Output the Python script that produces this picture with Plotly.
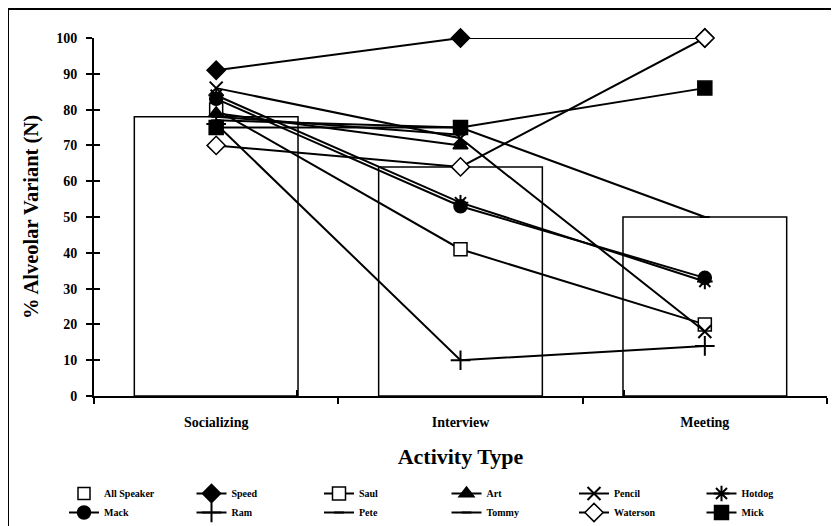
import plotly.graph_objects as go

categories = ["Socializing", "Interview", "Meeting"]
all_speaker = [78, 64, 50]

speed = [91, 100, 100]
saul = [80, 41, 20]
art = [79, 70, None]
pencil = [86, 72, 18]
hotdog = [84, 54, 32]
mack = [83, 53, 33]
ram = [76, 10, 14]
pete = [77, 75, 50]
tommy = [78, 73, None]
waterson = [70, 64, 100]
mick = [75, 75, 86]

series = [
    ("Speed", speed, "diamond", "black", 14),
    ("Saul", saul, "square", "white", 13),
    ("Art", art, "triangle-up", "black", 13),
    ("Pencil", pencil, "x-thin-open", "black", 13),
    ("Hotdog", hotdog, "asterisk-open", "black", 13),
    ("Mack", mack, "circle", "black", 13),
    ("Ram", ram, "cross-thin-open", "black", 14),
    ("Pete", pete, "line-ew-open", "black", 7),
    ("Tommy", tommy, "line-ew-open", "black", 7),
    ("Waterson", waterson, "diamond", "white", 14),
    ("Mick", mick, "square", "black", 14),
]

FONT = "Liberation Serif"
OFF = 8  # page body margin in the screenshot

W, H = 839, 526
# plot area in screenshot pixels
SX0, SX1, SY0, SY1 = 94, 827, 38, 396
L = SX0 - OFF
R = W - (SX1 - OFF)
T = SY0 - OFF
B = H - (SY1 - OFF)
pw, ph = W - L - R, H - T - B


def px(x):
    return (x - OFF - L) / pw


def py(y):
    return (H - B - (y - OFF)) / ph


fig = go.Figure()
fig.add_trace(go.Bar(
    x=categories, y=all_speaker, name="All Speaker", width=0.67,
    marker=dict(color="white", line=dict(color="black", width=1.5)),
))
for name, vals, sym, fill, size in series:
    fig.add_trace(go.Scatter(
        x=categories, y=vals, name=name, mode="lines+markers",
        line=dict(color="black", width=2),
        marker=dict(symbol=sym, color=fill, size=size,
                    line=dict(color="black", width=2 if "open" in sym else 1.5)),
        cliponaxis=False,
    ))
# helper trace so the overlay axes (inner half of crossing ticks) are drawn
fig.add_trace(go.Scatter(x=categories, y=[None, None, None], xaxis="x2", yaxis="y2",
                         showlegend=False, hoverinfo="skip"))

fig.update_layout(
    width=W, height=H,
    margin=dict(l=L, r=R, t=T, b=B, autoexpand=False),
    paper_bgcolor="white", plot_bgcolor="white",
    font=dict(family=FONT, color="black"),
    showlegend=True,
    bargap=0.33,
    legend=dict(
        orientation="h", x=px(64), y=py(479), xanchor="left", yanchor="top",
        entrywidth=82.5, entrywidthmode="pixels",
        font=dict(family=FONT, size=10, color="black", weight="bold"),
        itemsizing="trace", tracegroupgap=0,
        bgcolor="rgba(0,0,0,0)",
    ),
    xaxis=dict(
        showline=True, linecolor="black", linewidth=2,
        ticks="outside", ticklen=6, tickwidth=1.5, tickcolor="black",
        tickson="boundaries", ticklabelstandoff=12,
        tickfont=dict(family=FONT, size=14, color="black", weight="bold"),
        title=dict(text="Activity Type", standoff=20,
                   font=dict(family=FONT, size=22, color="black", weight="bold")),
        showgrid=False, zeroline=False,
    ),
    yaxis=dict(
        range=[0, 100], tickmode="linear", dtick=10, tick0=0,
        showline=True, linecolor="black", linewidth=2,
        ticks="outside", ticklen=6, tickwidth=1.5, tickcolor="black",
        ticklabelstandoff=6,
        tickfont=dict(family=FONT, size=14, color="black", weight="bold"),
        title=dict(text="% Alveolar Variant (N)", standoff=12,
                   font=dict(family=FONT, size=20.5, color="black", weight="bold")),
        showgrid=False, zeroline=False,
    ),
    xaxis2=dict(
        overlaying="x", anchor="y", side="bottom", type="category",
        ticks="inside", ticklen=6, tickwidth=1.5, tickcolor="black",
        tickson="boundaries", showticklabels=False, showline=False,
        showgrid=False, zeroline=False,
    ),
    yaxis2=dict(
        overlaying="y", anchor="x", side="left", range=[0, 100],
        tickmode="linear", dtick=10, tick0=0,
        ticks="inside", ticklen=6, tickwidth=1.5, tickcolor="black",
        showticklabels=False, showline=False, showgrid=False, zeroline=False,
    ),
    shapes=[dict(
        type="rect", xref="paper", yref="paper",
        x0=px(8), x1=px(850), y0=py(540), y1=py(9),
        line=dict(color="black", width=2), fillcolor="rgba(0,0,0,0)",
    )],
)

fig.write_html("out.html")
